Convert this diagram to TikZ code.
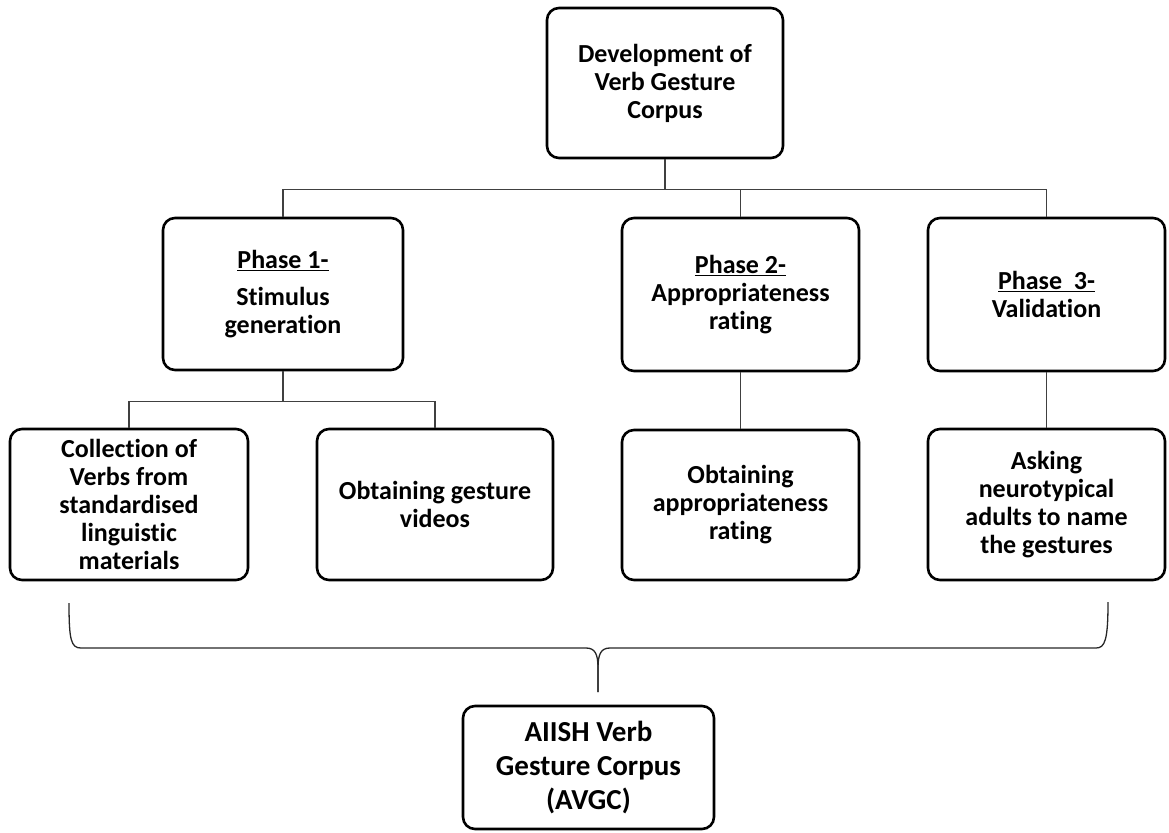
\documentclass[tikz,border=0pt]{standalone}
\usepackage{fontspec}
\setmainfont{Carlito}[Ligatures=NoCommon]
\begin{document}
\begin{tikzpicture}[x=1pt,y=-1pt,
  box/.style={draw, line width=2.6pt, rounded corners=12pt, align=center,
    font=\fontsize{26}{28}\selectfont\bfseries, inner sep=0pt},
  conn/.style={draw=black!75, line width=1.3pt},
  bracepath/.style={draw=black!85, line width=1.3pt}]
\useasboundingbox (0,0) rectangle (1169,832);

\node[box, minimum width=236pt, minimum height=150pt] (top) at (665,83)
  {Development of\\Verb Gesture\\Corpus};

\node[box, minimum width=240pt, minimum height=152pt] (p1) at (283,294)
  {\underline{Phase 1-}\\[9pt]Stimulus\\generation};
\node[box, minimum width=237pt, minimum height=153pt] (p2) at (740.5,294.5)
  {\underline{Phase 2-}\\Appropriateness\\rating};
\node[box, minimum width=237pt, minimum height=153pt] (p3) at (1046.5,294.5)
  {\underline{Phase\ \ 3-}\\Validation};

\node[box, minimum width=238pt, minimum height=151pt] (coll) at (129,504.5)
  {Collection of\\Verbs from\\standardised\\linguistic\\materials};
\node[box, minimum width=236pt, minimum height=151pt] (vid) at (435,504.5)
  {Obtaining gesture\\videos};
\node[box, minimum width=237pt, minimum height=150pt] (appr) at (740.5,505)
  {Obtaining\\appropriateness\\rating};
\node[box, minimum width=237pt, minimum height=151pt] (ask) at (1046.5,504.5)
  {Asking\\neurotypical\\adults to name\\the gestures};

\node[box, minimum width=251pt, minimum height=123pt,
      font=\fontsize{29}{34}\selectfont\bfseries] (avgc) at (588.5,767.5)
  {AIISH Verb\\Gesture Corpus\\(AVGC)};

% tree connectors
\draw[conn] (top.south) -- ++(0,30) -| (p1.north);
\draw[conn] (top.south) -- ++(0,30) -| (p2.north);
\draw[conn] (top.south) -- ++(0,30) -| (p3.north);
\draw[conn] (p1.south) -- ++(0,30) -| (coll.north);
\draw[conn] (p1.south) -- ++(0,30) -| (vid.north);
\draw[conn] (p2.south) -- (appr.north);
\draw[conn] (p3.south) -- (ask.north);

% brace
\coordinate (bL) at (69,603);
\coordinate (bR) at (1108,602);
\coordinate (bT) at (598,692);
\draw[bracepath] (bL) .. controls (69,640) and (71,648) .. (81,648)
  -- (586,648) .. controls (595,648) and (598,654) .. (598,668) -- (bT);
\draw[bracepath] (bT) -- (598,668) .. controls (598,654) and (601,648) .. (610,648)
  -- (1096,648) .. controls (1105,648) and (1108,640) .. (bR);
\end{tikzpicture}
\end{document}
